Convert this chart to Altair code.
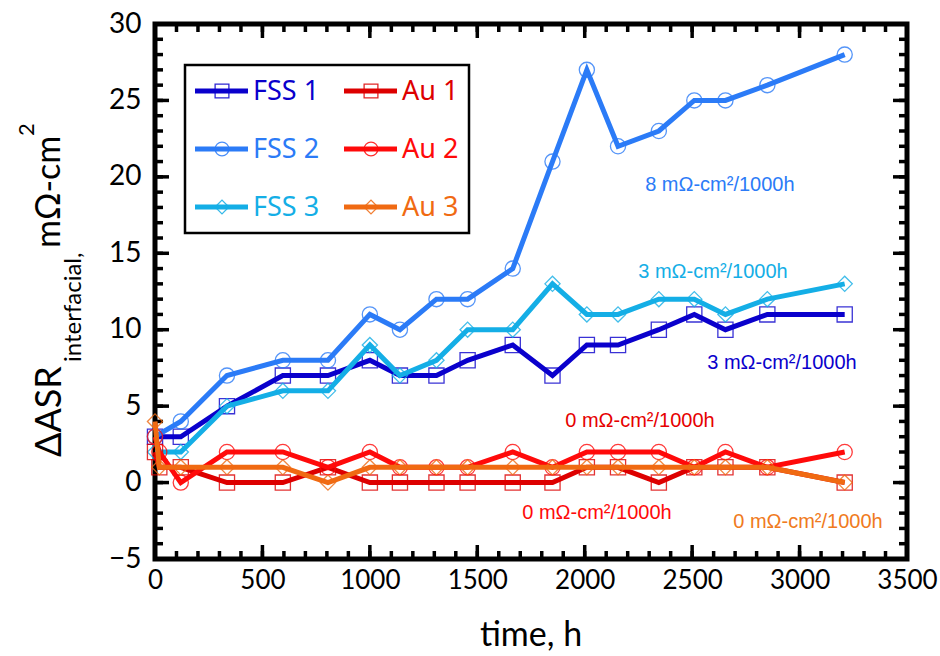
import altair as alt
import pandas as pd

# ---------------- data ----------------
time_fss = [0, 120, 335, 595, 805, 1000, 1140, 1310, 1455, 1665, 1850, 2010, 2155, 2345, 2510, 2655, 2850, 3210]
time_au = [0, 20, 120, 335, 595, 805, 1000, 1140, 1310, 1455, 1665, 1850, 2010, 2155, 2345, 2510, 2655, 2850, 3210]

fss1 = [3, 3, 5, 7, 7, 8, 7, 7, 8, 9, 7, 9, 9, 10, 11, 10, 11, 11]
fss2 = [3, 4, 7, 8, 8, 11, 10, 12, 12, 14, 21, 27, 22, 23, 25, 25, 26, 28]
fss3 = [2, 2, 5, 6, 6, 9, 7, 8, 10, 10, 13, 11, 11, 12, 12, 11, 12, 13]
au1 = [2, 1, 1, 0, 0, 1, 0, 0, 0, 0, 0, 0, 1, 1, 0, 1, 1, 1, 0]
au2 = [3, 2, 0, 2, 2, 1, 2, 1, 1, 1, 2, 1, 2, 2, 2, 1, 2, 1, 2]
au3 = [4, 1, 1, 1, 1, 0, 1, 1, 1, 1, 1, 1, 1, 1, 1, 1, 1, 1, 0]

series_names = ["FSS 1", "FSS 2", "FSS 3", "Au 1", "Au 2", "Au 3"]
series_times = [time_fss, time_fss, time_fss, time_au, time_au, time_au]
series_values = [fss1, fss2, fss3, au1, au2, au3]
series_colors = ["#0A00CC", "#2B7BF7", "#14AEE6", "#DD0000", "#FF0A0A", "#F06A12"]
series_shapes = ["square", "circle", "diamond", "square", "circle", "diamond"]

annot_text = ["8 mΩ-cm²/1000h", "3 mΩ-cm²/1000h", "3 mΩ-cm²/1000h",
              "0 mΩ-cm²/1000h", "0 mΩ-cm²/1000h", "0 mΩ-cm²/1000h"]
annot_x = [2629, 2597, 2918, 2257, 2057, 3039]
annot_y = [19.5, 13.8, 7.8, 4.0, -2.0, -2.6]
annot_color = ["#2B7BF7", "#14AEE6", "#0A00CC", "#E60000", "#FF0A0A", "#F07A20"]

x_ticks = [0, 500, 1000, 1500, 2000, 2500, 3000, 3500]
y_ticks = [-5, 0, 5, 10, 15, 20, 25, 30]
x_minor = list(range(0, 3501, 100))
y_minor = list(range(-5, 31, 1))

# ---------------- layout ----------------
W, H = 752, 535
TICK_FONT = "Lato"
LEG_FONT = "Noto Sans"
ANN_FONT = "Liberation Sans"

xs = alt.Scale(domain=[0, 3500], nice=False, zero=False)
ys = alt.Scale(domain=[-5, 30], nice=False, zero=False)
xaxis = alt.Axis(values=x_ticks, title=None, grid=False, domain=False, ticks=False, format="d",
                 labelFont=TICK_FONT, labelFontSize=26, labelPadding=8,
                 labelColor="black", labelFlush=False)
yaxis = alt.Axis(values=y_ticks, title=None, grid=False, domain=False, ticks=False, format="d",
                 labelFont=TICK_FONT, labelFontSize=28, labelPadding=14,
                 labelColor="black", labelFlush=False)

X = lambda: alt.X("t:Q", scale=xs, axis=xaxis)
Y = lambda: alt.Y("v:Q", scale=ys, axis=yaxis)

layers = []

# inward ticks on all four sides
dxmin = pd.DataFrame({"t": x_minor})
dxmaj = pd.DataFrame({"t": x_ticks})
dymin = pd.DataFrame({"v": y_minor})
dymaj = pd.DataFrame({"v": y_ticks})
for d, L in [(dxmin, 8), (dxmaj, 14)]:
    layers.append(alt.Chart(d).mark_rule(color="black", strokeWidth=3.5).encode(
        x=X(), y=alt.value(0), y2=alt.value(L)))
    layers.append(alt.Chart(d).mark_rule(color="black", strokeWidth=3.5).encode(
        x=X(), y=alt.value(H), y2=alt.value(H - L)))
for d, L in [(dymin, 8), (dymaj, 14)]:
    layers.append(alt.Chart(d).mark_rule(color="black", strokeWidth=3.5).encode(
        y=Y(), x=alt.value(0), x2=alt.value(L)))
    layers.append(alt.Chart(d).mark_rule(color="black", strokeWidth=3.5).encode(
        y=Y(), x=alt.value(W), x2=alt.value(W - L)))

# data series
for name, tt, vv, col, shp in zip(series_names, series_times, series_values,
                                  series_colors, series_shapes):
    df = pd.DataFrame({"t": tt, "v": vv})
    layers.append(alt.Chart(df).mark_line(color=col, strokeWidth=5).encode(x=X(), y=Y()))
    layers.append(alt.Chart(df).mark_point(shape=shp, filled=False, color=col, size=230,
                                           strokeWidth=1.3, opacity=0.8).encode(x=X(), y=Y()))

# annotations
dann = pd.DataFrame({"t": annot_x, "v": annot_y, "label": annot_text, "c": annot_color})
layers.append(alt.Chart(dann).mark_text(font=ANN_FONT, fontSize=20, baseline="middle",
                                         align="center").encode(
    x=X(), y=Y(), text="label:N", color=alt.Color("c:N", scale=None)))

one = pd.DataFrame({"a": [0]})

# legend box
layers.append(alt.Chart(one).mark_rect(fill="white", stroke="black", strokeWidth=2.5).encode(
    x=alt.value(30), x2=alt.value(314), y=alt.value(41), y2=alt.value(209)))
for i, (name, col, shp) in enumerate(zip(series_names, series_colors, series_shapes)):
    c, r = i // 3, i % 3
    x0 = 40 + c * 149
    yy = 67 + r * 58
    layers.append(alt.Chart(one).mark_rule(color=col, strokeWidth=5).encode(
        x=alt.value(x0), x2=alt.value(x0 + 53), y=alt.value(yy)))
    layers.append(alt.Chart(one).mark_point(shape=shp, filled=False, color=col, size=190,
                                            strokeWidth=1.3, opacity=0.85).encode(
        x=alt.value(x0 + 27), y=alt.value(yy)))
    layers.append(alt.Chart(one).mark_text(text=name, font=LEG_FONT, fontSize=27, color=col,
                                           align="left", baseline="middle").encode(
        x=alt.value(x0 + 58), y=alt.value(yy + 1)))

# axis titles as text
layers.append(alt.Chart(one).mark_text(text="time, h", font=TICK_FONT, fontSize=34,
                                       align="center", baseline="alphabetic").encode(
    x=alt.value(W / 2), y=alt.value(622)))
ytitle = [
    ("ΔASR", 36, -94, 433),
    ("interfacial,", 24, -74, 338),
    ("mΩ-cm", 34, -95, 224),
    ("2", 22, -121, 112),
]
for txt, fs, px, py in ytitle:
    layers.append(alt.Chart(one).mark_text(text=txt, font=TICK_FONT, fontSize=fs, angle=270,
                                           align="left", baseline="alphabetic").encode(
        x=alt.value(px), y=alt.value(py)))

chart = alt.layer(*layers).properties(
    width=W, height=H, autosize="none",
    padding={"left": 155, "top": 24, "right": 33, "bottom": 97},
    background="white",
).configure_view(stroke="black", strokeWidth=5)

chart.save("out.html", embed_options={"renderer": "svg", "actions": False})
